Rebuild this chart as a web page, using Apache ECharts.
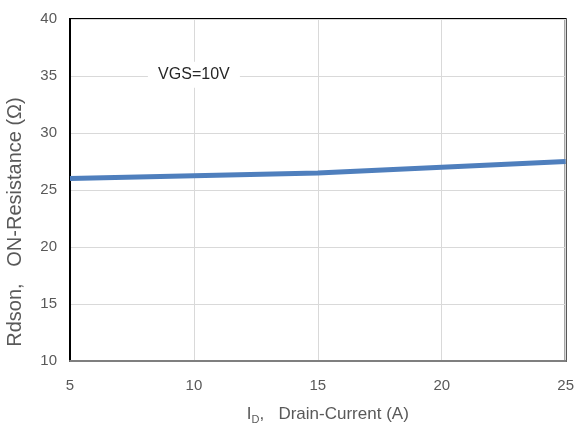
<!DOCTYPE html>
<html><head><meta charset="utf-8">
<script src="https://cdn.jsdelivr.net/npm/echarts@6/dist/echarts.min.js"></script>
<style>html,body{margin:0;padding:0;background:#fff}#c{width:577px;height:430px}</style>
</head><body><div id="c"></div>
<script>
const currents = [5, 10, 15, 20, 25];
const rdson = [26.0, 26.25, 26.5, 27.0, 27.5];
const xTicks = [5, 10, 15, 20, 25];
const yTicks = [10, 15, 20, 25, 30, 35, 40];
const annotation = 'VGS=10V';
const xTitle = 'I{s|D},   Drain-Current (A)';
const yTitle = 'Rdson,   ON-Resistance (Ω)';

const chart = echarts.init(document.getElementById('c'), null, {renderer:'canvas'});
const font = 'Liberation Sans, Arial, sans-serif';
chart.setOption({
  animation:false,
  grid:{left:70,right:8,top:19,bottom:65,show:true,borderColor:'#000',borderWidth:2,backgroundColor:'#fff'},
  xAxis:{type:'value',min:xTicks[0],max:xTicks[xTicks.length-1],interval:5,
    axisLine:{show:true,onZero:false,lineStyle:{color:'#7f7f7f',width:2}},
    axisTick:{show:false},
    axisLabel:{color:'#595959',fontSize:15,fontFamily:font,margin:17},
    splitLine:{show:true,lineStyle:{color:'#d9d9d9',width:1}},
    name:xTitle,nameLocation:'middle',nameGap:43,
    nameTextStyle:{color:'#595959',fontSize:17,fontFamily:font,padding:[0,0,0,20],
      rich:{s:{fontSize:11,color:'#595959',fontFamily:font,verticalAlign:'bottom',padding:[10,0,0,0]}}}
  },
  yAxis:{type:'value',min:yTicks[0],max:yTicks[yTicks.length-1],interval:5,
    axisLine:{show:true,lineStyle:{color:'#000',width:2}},
    axisTick:{show:false},
    axisLabel:{color:'#595959',fontSize:15,fontFamily:font,margin:13},
    splitLine:{show:true,lineStyle:{color:'#d9d9d9',width:1}}
  },
  graphic:[{type:'text',x:15,y:222,rotation:Math.PI/2,
    style:{text:yTitle,fill:'#595959',font:'20px '+font,align:'center',verticalAlign:'middle'}}],
  series:[{type:'line',data:currents.map((x,i)=>[x,rdson[i]]),showSymbol:false,
    lineStyle:{color:'#4f7fbd',width:5},
    markPoint:{symbol:'rect',symbolSize:[92,26],itemStyle:{color:'#fff'},
      data:[{coord:[10,35.1],label:{show:true,formatter:annotation,color:'#262626',fontSize:16,fontFamily:font}}]}
  }]
});
</script></body></html>
